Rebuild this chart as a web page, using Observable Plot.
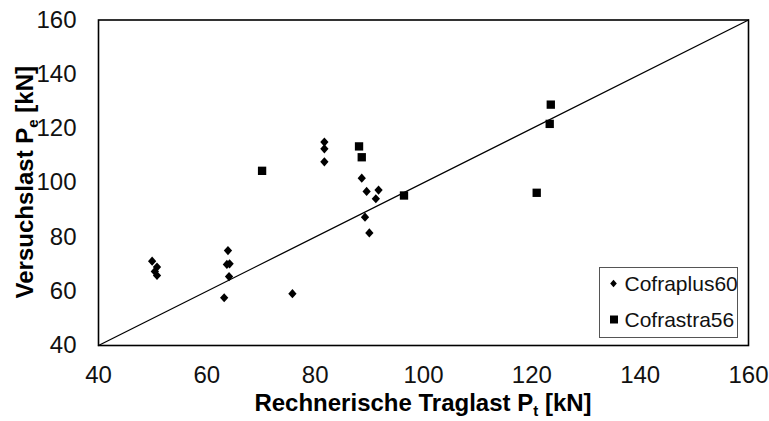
<!DOCTYPE html>
<html>
<head>
<meta charset="utf-8">
<script src="https://cdn.jsdelivr.net/npm/d3@7"></script>
<script src="https://cdn.jsdelivr.net/npm/@observablehq/plot@0.6"></script>
<style>
  html, body { margin: 0; padding: 0; background: #fff; }
  #chart { width: 769px; height: 421px; }
</style>
</head>
<body>
<div id="chart"></div>
<script>
// ---- data ----
const xTicks = [40, 60, 80, 100, 120, 140, 160];
const yTicks = [40, 60, 80, 100, 120, 140, 160];
const seriesNames = ["Cofraplus60", "Cofrastra56"];
const cofraplusX = [49.9, 50.8, 50.4, 50.8, 63.9, 63.7, 64.2, 64.1, 63.2, 75.8, 81.7, 81.7, 81.7, 88.6, 89.5, 91.7, 91.2, 89.2, 90.0];
const cofraplusY = [71.1, 68.9, 67.3, 65.8, 75.0, 69.9, 70.1, 65.4, 57.6, 59.1, 115.0, 112.5, 107.7, 101.7, 96.8, 97.3, 94.1, 87.3, 81.5];
const cofrastraX = [70.2, 88.1, 88.6, 96.4, 123.5, 123.3, 120.9];
const cofrastraY = [104.4, 113.4, 109.4, 95.3, 128.8, 121.7, 96.3];
const xTitle = ["Rechnerische Traglast P", "t", " [kN]"];
const yTitle = ["Versuchslast P", "e", " [kN]"];

// ---- build tables ----
const plusData = cofraplusX.map((x, i) => ({x, y: cofraplusY[i]}));
const straData = cofrastraX.map((x, i) => ({x, y: cofrastraY[i]}));
const diag = [xTicks[0], xTicks[xTicks.length - 1]].map(v => ({x: v, y: v}));

const diamondSym = {
  draw(ctx, size) {
    const s = Math.sqrt(size / Math.PI);
    ctx.moveTo(0, -s);
    ctx.lineTo(0.9 * s, 0);
    ctx.lineTo(0, s);
    ctx.lineTo(-0.9 * s, 0);
    ctx.closePath();
  }
};

const FONT = "'Liberation Sans', Arial, sans-serif";
const W = 769, H = 421;
const mL = 98, mR = 21, mT = 19.5, mB = 76;

const plot = Plot.plot({
  width: W,
  height: H,
  marginLeft: mL,
  marginRight: mR,
  marginTop: mT,
  marginBottom: mB,
  style: {fontFamily: FONT, background: "#fff", color: "#000"},
  x: {domain: [40, 160], label: null},
  y: {domain: [40, 160], label: null},
  marks: [
    Plot.line(diag, {x: "x", y: "y", stroke: "#000", strokeWidth: 1.3}),
    Plot.dot(plusData, {x: "x", y: "y", symbol: diamondSym, r: 4.6, fill: "#000", stroke: "none"}),
    Plot.dot(straData, {x: "x", y: "y", symbol: "square", r: 4.7, fill: "#000", stroke: "none"}),
    Plot.frame({stroke: "#000", strokeWidth: 1.6}),
    Plot.axisX({ticks: xTicks, tickSize: 0, tickPadding: 20, fontSize: 24, label: null, fill: "#111"}),
    Plot.axisY({ticks: yTicks, tickSize: 0, tickPadding: 22, fontSize: 24, label: null, fill: "#111"})
  ]
});
document.getElementById("chart").appendChild(plot);

// ---- axis titles with subscripts ----
const svg = d3.select(plot);
const xt = svg.append("text")
  .attr("x", (mL + W - mR) / 2).attr("y", 411)
  .attr("text-anchor", "middle")
  .attr("font-family", FONT).attr("font-weight", "bold").attr("font-size", 24).attr("fill", "#000");
xt.append("tspan").text(xTitle[0]);
xt.append("tspan").attr("font-size", 15).attr("dy", 5).text(xTitle[1]);
xt.append("tspan").attr("dy", -5).text(xTitle[2]);

const yt = svg.append("text")
  .attr("transform", `translate(33,${(mT + H - mB) / 2}) rotate(-90)`)
  .attr("text-anchor", "middle")
  .attr("font-family", FONT).attr("font-weight", "bold").attr("font-size", 24).attr("fill", "#000");
yt.append("tspan").text(yTitle[0]);
yt.append("tspan").attr("font-size", 15).attr("dy", 5).text(yTitle[1]);
yt.append("tspan").attr("dy", -5).text(yTitle[2]);

// ---- legend ----
const lg = svg.append("g").attr("transform", "translate(599.5,267.5)");
lg.append("rect").attr("width", 138).attr("height", 70)
  .attr("fill", "#fff").attr("stroke", "#555").attr("stroke-width", 1);
lg.append("path").attr("transform", "translate(14,16)")
  .attr("d", d3.symbol().type(diamondSym).size(Math.PI * 3.7 * 3.7)()).attr("fill", "#000");
lg.append("path").attr("transform", "translate(14.5,52)")
  .attr("d", d3.symbol().type(d3.symbolSquare).size(64)()).attr("fill", "#000");
lg.append("text").attr("x", 25).attr("y", 16).attr("dy", "0.35em").attr("text-anchor", "start")
  .attr("font-family", FONT).attr("font-size", 21).attr("fill", "#111").text(seriesNames[0]);
lg.append("text").attr("x", 25).attr("y", 52).attr("dy", "0.35em").attr("text-anchor", "start")
  .attr("font-family", FONT).attr("font-size", 21).attr("fill", "#111").text(seriesNames[1]);
</script>
</body>
</html>
